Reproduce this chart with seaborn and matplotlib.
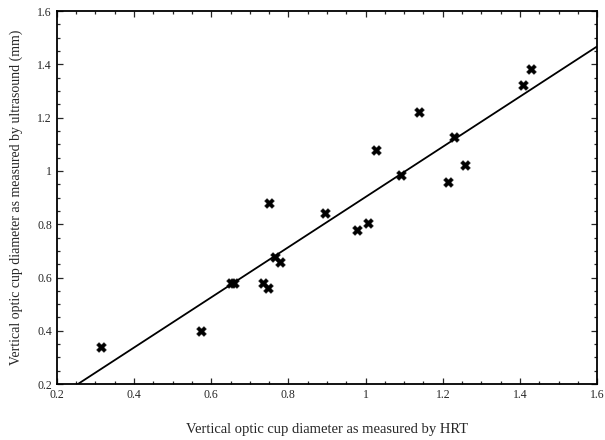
import numpy as np
import pandas as pd
import seaborn as sns
import matplotlib
matplotlib.use("Agg")
import matplotlib.pyplot as plt
from matplotlib.ticker import MultipleLocator, FuncFormatter

hrt = [0.314, 0.573, 0.652, 0.660, 0.734, 0.747, 0.750, 0.765, 0.778, 0.895,
       0.978, 1.006, 1.027, 1.092, 1.139, 1.214, 1.229, 1.258, 1.408, 1.429]
ultrasound = [0.339, 0.399, 0.580, 0.580, 0.579, 0.560, 0.880, 0.677, 0.658, 0.842,
              0.778, 0.804, 1.078, 0.985, 1.221, 0.958, 1.127, 1.022, 1.322, 1.382]
x_ticks = [0.2, 0.4, 0.6, 0.8, 1.0, 1.2, 1.4, 1.6]
y_ticks = [0.2, 0.4, 0.6, 0.8, 1.0, 1.2, 1.4, 1.6]

df = pd.DataFrame({"hrt": hrt, "us": ultrasound})

sns.set_style("ticks")
plt.rcParams["font.family"] = ["Liberation Serif", "DejaVu Serif"]

fig = plt.figure(figsize=(6.05, 4.4), dpi=100)
ax = fig.add_axes([0.094, 0.127, 0.893, 0.848])
ax.set_xlim(0.2, 1.6)
ax.set_ylim(0.2, 1.6)

sns.regplot(data=df, x="hrt", y="us", ax=ax, ci=None, truncate=False,
            marker="X", color="black",
            scatter_kws={"s": 50, "linewidths": 0.3, "edgecolors": "black", "alpha": 1},
            line_kws={"linewidth": 1.3, "color": "black"})
ax.set_xlim(0.2, 1.6)
ax.set_ylim(0.2, 1.6)

ax.set_xticks(x_ticks)
ax.set_yticks(y_ticks)
fmt = FuncFormatter(lambda v, p: ("%g" % round(v, 2)))
ax.xaxis.set_major_formatter(fmt)
ax.yaxis.set_major_formatter(fmt)
ax.xaxis.set_minor_locator(MultipleLocator(0.05))
ax.yaxis.set_minor_locator(MultipleLocator(0.05))
ax.tick_params(which="both", direction="in", top=True, right=True, labelsize=8.5, width=0.9)
ax.tick_params(which="major", length=4)
ax.tick_params(which="minor", length=2)
for s in ax.spines.values():
    s.set_linewidth(1.3)
    s.set_color("black")

ax.set_xlabel("Vertical optic cup diameter as measured by HRT", fontsize=10.5, labelpad=16)
ax.set_ylabel("Vertical optic cup diameter as measured by ultrasound (mm)", fontsize=10, labelpad=10)

fig.savefig("out.png", dpi=100)
